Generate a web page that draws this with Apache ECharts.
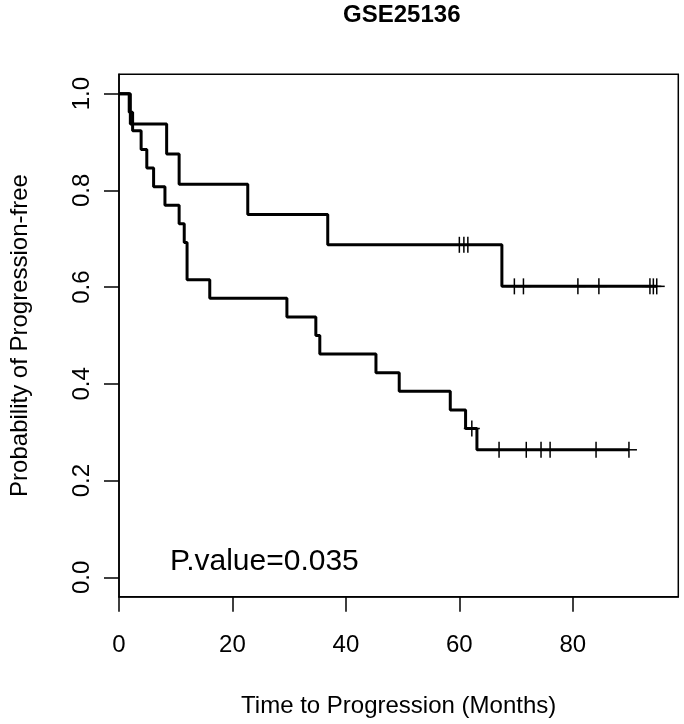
<!DOCTYPE html>
<html>
<head>
<meta charset="utf-8">
<script src="https://cdn.jsdelivr.net/npm/echarts@6/dist/echarts.min.js"></script>
<style>
html,body{margin:0;padding:0;background:#fff;}
#chart{width:684px;height:724px;}
</style>
</head>
<body>
<div id="chart"></div>
<script>
// ---- data ----
const chartTitle = 'GSE25136';
const xAxisTitle = 'Time to Progression (Months)';
const yAxisTitle = 'Probability of Progression-free';
const pValueText = 'P.value=0.035';

const xTicks = [0, 20, 40, 60, 80];
const yTicks = [0, 0.2, 0.4, 0.6, 0.8, 1.0];
const yTickLabels = ['0.0', '0.2', '0.4', '0.6', '0.8', '1.0'];

// upper curve (step points: time of drop, level after drop)
const upperTimes = [0, 2.0, 8.4, 10.6, 22.7, 36.8, 67.5, 94.8];
const upperSurv  = [1, 0.9375, 0.875, 0.8125, 0.75, 0.6875, 0.6016, 0.6016];
const upperCensorTimes = [60.0, 60.8, 61.5, 69.7, 71.3, 80.9, 84.6, 93.6, 94.2, 94.8];
const upperCensorSurv  = [0.6875, 0.6875, 0.6875, 0.6016, 0.6016, 0.6016, 0.6016, 0.6016, 0.6016, 0.6016];

// lower curve
const lowerTimes = [0, 1.8, 2.4, 3.9, 4.9, 6.1, 8.1, 10.6, 11.5, 12.0, 16.0, 29.6, 34.7, 35.4, 45.3, 49.4, 58.4, 61.1, 63.1, 89.9];
const lowerSurv  = [1, 0.9615, 0.9231, 0.8846, 0.8462, 0.8077, 0.7692, 0.7308, 0.6923, 0.6154, 0.5769, 0.5385, 0.5, 0.4615, 0.4231, 0.3846, 0.3462, 0.3077, 0.2637, 0.2637];
const lowerCensorTimes = [62.2, 67.0, 71.8, 74.4, 76.0, 84.1, 89.9];
const lowerCensorSurv  = [0.3077, 0.2637, 0.2637, 0.2637, 0.2637, 0.2637, 0.2637];

const xMin = 0, xMax = 98.6;
const yMin = -0.04, yMax = 1.04;

// ---- chart ----
const FONT = '"Liberation Sans", Arial, Helvetica, sans-serif';
const zip = (a, b) => a.map((v, i) => [v, b[i]]);

function plusItem(params, api) {
  const p = api.coord([api.value(0), api.value(1)]);
  const s = 8;
  const st = { stroke: '#000', lineWidth: 1.5 };
  return {
    type: 'group',
    children: [
      { type: 'line', shape: { x1: p[0] - s, y1: p[1], x2: p[0] + s, y2: p[1] }, style: st },
      { type: 'line', shape: { x1: p[0], y1: p[1] - s, x2: p[0], y2: p[1] + s }, style: st }
    ]
  };
}

const chart = echarts.init(document.getElementById('chart'), null, { renderer: 'canvas' });
chart.setOption({
  animation: false,
  backgroundColor: '#fff',
  textStyle: { fontFamily: FONT },
  title: {
    text: chartTitle,
    left: 396.8, top: -2,
    textAlign: 'center',
    textStyle: { fontFamily: FONT, fontWeight: 'bold', fontSize: 24, color: '#000' }
  },
  grid: {
    left: 115.3, right: 5.7, top: 74.3, bottom: 127.3,
    show: true, borderColor: '#000', borderWidth: 1.5, backgroundColor: 'transparent'
  },
  xAxis: {
    type: 'value', min: xMin, max: xMax,
    name: xAxisTitle, nameLocation: 'middle', nameGap: 98,
    nameTextStyle: { fontFamily: FONT, fontSize: 24, color: '#000' },
    axisLine: { show: true, onZero: false, lineStyle: { color: '#000', width: 1.5 } },
    splitLine: { show: false },
    axisTick: { show: true, inside: false, length: 15, customValues: xTicks, lineStyle: { color: '#000', width: 1.5 } },
    axisLabel: { customValues: xTicks, fontFamily: FONT, fontSize: 24, color: '#000', margin: 37 }
  },
  yAxis: {
    type: 'value', min: yMin, max: yMax,
    name: yAxisTitle, nameLocation: 'middle', nameGap: 87, nameRotate: 90,
    nameTextStyle: { fontFamily: FONT, fontSize: 24, color: '#000' },
    axisLine: { show: true, onZero: false, lineStyle: { color: '#000', width: 1.5 } },
    splitLine: { show: false },
    axisTick: { show: true, inside: false, length: 15, customValues: yTicks, lineStyle: { color: '#000', width: 1.5 } },
    axisLabel: {
      customValues: yTicks, rotate: 90, fontFamily: FONT, fontSize: 24, color: '#000', margin: 25,
      formatter: v => { const i = yTicks.findIndex(t => Math.abs(t - v) < 1e-9); return i >= 0 ? yTickLabels[i] : ''; }
    }
  },
  series: [
    {
      type: 'line', step: 'end', data: zip(upperTimes, upperSurv),
      showSymbol: false, lineStyle: { color: '#000', width: 3 }, z: 3
    },
    {
      type: 'line', step: 'end', data: zip(lowerTimes, lowerSurv),
      showSymbol: false, lineStyle: { color: '#000', width: 3 }, z: 3
    },
    { type: 'custom', renderItem: plusItem, data: zip(upperCensorTimes, upperCensorSurv), z: 4 },
    { type: 'custom', renderItem: plusItem, data: zip(lowerCensorTimes, lowerCensorSurv), z: 4 }
  ],
  graphic: [
    {
      type: 'text', left: 170, top: 547,
      style: { text: pValueText, font: '30px ' + FONT, fill: '#000' }
    }
  ]
});
</script>
</body>
</html>
